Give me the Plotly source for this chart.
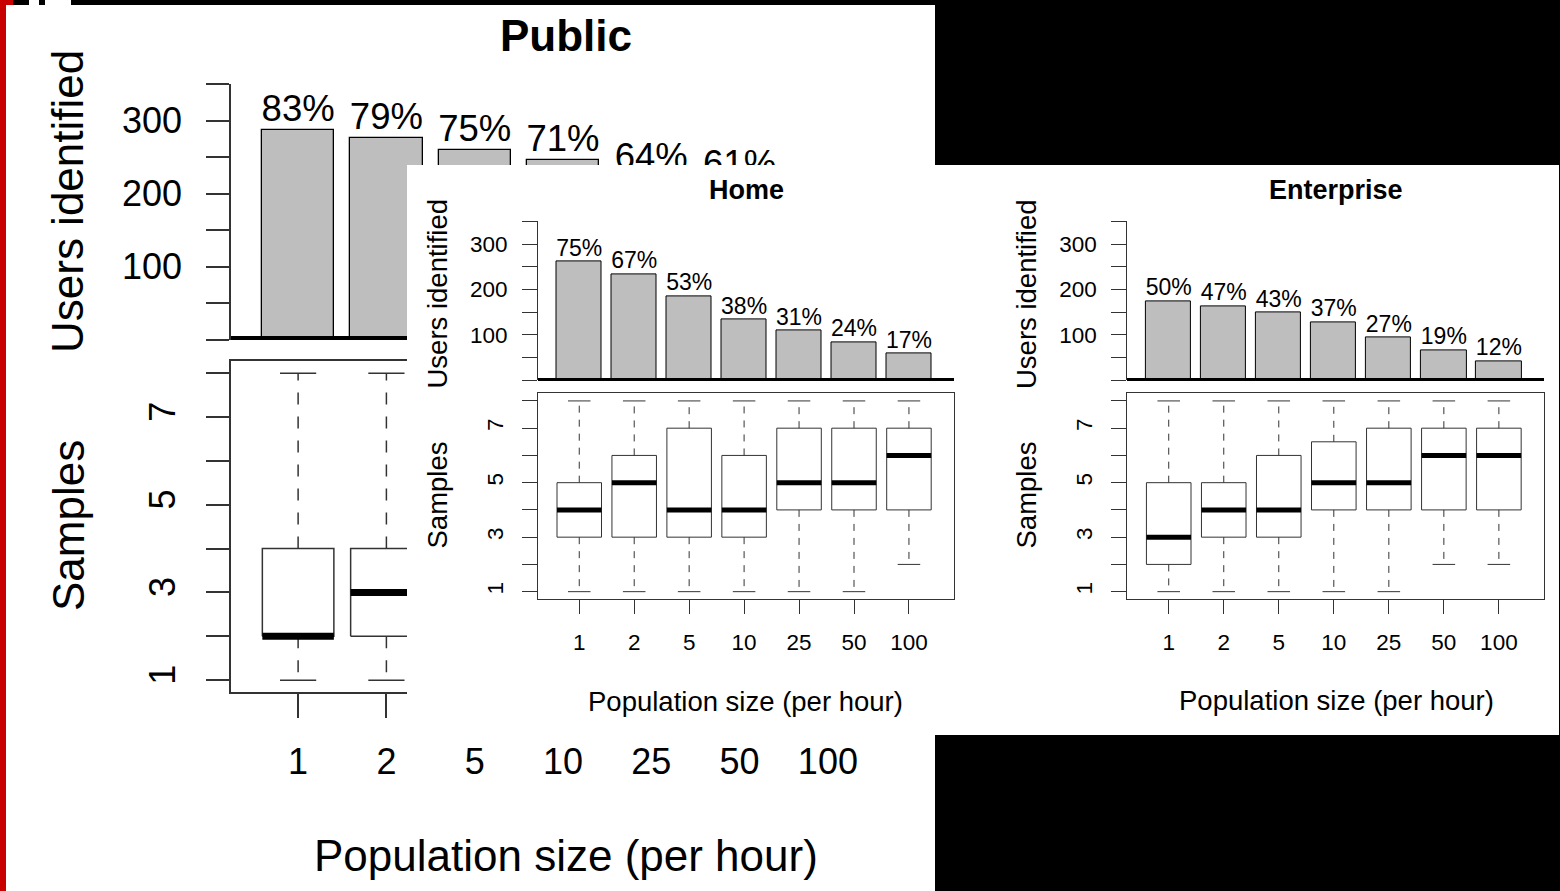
import plotly.graph_objects as go

W, H = 1560, 891
FONT = "Liberation Sans, Arial, sans-serif"

# ---------------- data ----------------
categories = ["1", "2", "5", "10", "25", "50", "100"]

public_users = [287, 276, 260, 246, 222, 212, 180]
public_pct = ["83%", "79%", "75%", "71%", "64%", "61%", "52%"]
home_users = [261, 234, 185, 133, 109, 84, 59]
home_pct = ["75%", "67%", "53%", "38%", "31%", "24%", "17%"]
ent_users = [174, 163, 149, 128, 94, 66, 42]
ent_pct = ["50%", "47%", "43%", "37%", "27%", "19%", "12%"]

# box statistics (samples): lower whisker, Q1, median, Q3, upper whisker
public_lo = [1, 1, 1, 1, 1, 1, 2]
public_q1 = [2, 2, 2, 3, 3, 3, 4]
public_med = [2, 3, 3, 4, 4, 5, 5]
public_q3 = [4, 4, 5, 5, 6, 6, 7]
public_hi = [8, 8, 8, 8, 8, 8, 8]

home_lo = [1, 1, 1, 1, 1, 1, 2]
home_q1 = [3, 3, 3, 3, 4, 4, 4]
home_med = [4, 5, 4, 4, 5, 5, 6]
home_q3 = [5, 6, 7, 6, 7, 7, 7]
home_hi = [8, 8, 8, 8, 8, 8, 8]

ent_lo = [1, 1, 1, 1, 1, 2, 2]
ent_q1 = [2, 3, 3, 4, 4, 4, 4]
ent_med = [3, 4, 4, 5, 5, 6, 6]
ent_q3 = [5, 5, 6, 6.5, 7, 7, 7]
ent_hi = [8, 8, 8, 8, 8, 8, 8]

user_ticks = [0, 50, 100, 150, 200, 250, 300, 350]
user_ticktext = ["", "", "100", "", "200", "", "300", ""]
sample_ticks = [1, 2, 3, 4, 5, 6, 7, 8]
sample_ticktext = ["1", "", "3", "", "5", "", "7", ""]


def fx(p):
    return p / W


def fy(p):
    return 1 - p / H


LC = "#333333"
XR = [-0.76, 6.82]

panels = [
    dict(title="Public", users=public_users, pct=public_pct,
         lo=public_lo, q1=public_q1, med=public_med, q3=public_q3, hi=public_hi,
         x0=231, x1=900.3, bar_top=84.1, bar_bot=340, base=338.3, base_w=3.5,
         box_top=361, box_bot=692.4, tick_font=36, pct_font=36.5, lab_font=44,
         ytl=23, xtl=24, lw=1.5, bar_lw=1.3, med_w=7, dash="12px,12px",
         ystand=17, bystand=17, xstand=13,
         title_xy=(566, 35), title_font=44,
         uid_xy=(68, 202), samp_xy=(68, 526), pop_xy=(566, 855),
         ids=(1, 2)),
    dict(title="Home", users=home_users, pct=home_pct,
         lo=home_lo, q1=home_q1, med=home_med, q3=home_q3, hi=home_hi,
         x0=537.5, x1=954, bar_top=221.4, bar_bot=380, base=378.7, base_w=2.5,
         box_top=393.3, box_bot=599.3, tick_font=22.5, pct_font=23, lab_font=27.5,
         ytl=14.5, xtl=14, lw=1, bar_lw=1, med_w=5, dash="7px,7px",
         ystand=10, bystand=10, xstand=9,
         title_xy=(746.5, 190), title_font=27,
         uid_xy=(436.5, 294), samp_xy=(436.5, 495), pop_xy=(745.5, 701),
         ids=(4, 5)),
    dict(title="Enterprise", users=ent_users, pct=ent_pct,
         lo=ent_lo, q1=ent_q1, med=ent_med, q3=ent_q3, hi=ent_hi,
         x0=1126.9, x1=1544, bar_top=221.4, bar_bot=380, base=378.7, base_w=2.5,
         box_top=393.3, box_bot=599.3, tick_font=22.5, pct_font=23, lab_font=27.5,
         ytl=14.5, xtl=14, lw=1, bar_lw=1, med_w=5, dash="7px,7px",
         ystand=10, bystand=10, xstand=9,
         title_xy=(1335.5, 190), title_font=27,
         uid_xy=(1026, 294), samp_xy=(1025.5, 495), pop_xy=(1336, 700),
         ids=(6, 7)),
]

fig = go.Figure()
layout_axes = {}
annotations = []


def ax_names(n):
    return ("x" if n == 1 else f"x{n}", "y" if n == 1 else f"y{n}",
            "xaxis" if n == 1 else f"xaxis{n}", "yaxis" if n == 1 else f"yaxis{n}")


def add_panel(p):
    bar_n, box_n = p["ids"]
    bx, by, bxk, byk = ax_names(bar_n)
    qx, qy, qxk, qyk = ax_names(box_n)
    pos = list(range(len(categories)))

    # ---- bars ----
    fig.add_trace(go.Bar(
        x=pos, y=p["users"], width=0.82, xaxis=bx, yaxis=by,
        marker=dict(color="#BEBEBE", line=dict(color="black", width=p["bar_lw"])),
        hoverinfo="skip", showlegend=False))
    fig.add_trace(go.Scatter(
        x=pos, y=p["users"], text=p["pct"], mode="text", textposition="top center",
        textfont=dict(size=p["pct_font"], color="black", family=FONT),
        xaxis=bx, yaxis=by, cliponaxis=False, hoverinfo="skip", showlegend=False))

    # ---- boxes ----
    bw, cw = 0.81, 0.41
    rx, ry, mx, my, wx, wy, cx, cy = [], [], [], [], [], [], [], []
    for i in pos:
        l, r = i - bw / 2, i + bw / 2
        rx += [l, r, r, l, l, None]
        ry += [p["q1"][i], p["q1"][i], p["q3"][i], p["q3"][i], p["q1"][i], None]
        mx += [l, r, None]
        my += [p["med"][i], p["med"][i], None]
        wx += [i, i, None, i, i, None]
        wy += [p["q3"][i], p["hi"][i], None, p["q1"][i], p["lo"][i], None]
        cx += [i - cw / 2, i + cw / 2, None, i - cw / 2, i + cw / 2, None]
        cy += [p["hi"][i], p["hi"][i], None, p["lo"][i], p["lo"][i], None]
    common = dict(xaxis=qx, yaxis=qy, mode="lines", hoverinfo="skip", showlegend=False)
    fig.add_trace(go.Scatter(x=wx, y=wy, line=dict(color=LC, width=p["lw"], dash=p["dash"]), **common))
    fig.add_trace(go.Scatter(x=cx, y=cy, line=dict(color=LC, width=p["lw"]), **common))
    fig.add_trace(go.Scatter(x=rx, y=ry, line=dict(color=LC, width=p["lw"]), **common))
    fig.add_trace(go.Scatter(x=mx, y=my, line=dict(color="black", width=p["med_w"]), **common))

    tf = dict(size=p["tick_font"], color="black", family=FONT)
    xdom = [fx(p["x0"]), fx(p["x1"])]
    layout_axes[bxk] = dict(domain=xdom, range=XR, anchor="free", position=fy(p["base"]),
                            showline=True, linecolor="black", linewidth=p["base_w"],
                            showticklabels=False, ticks="", showgrid=False, zeroline=False)
    layout_axes[byk] = dict(domain=[fy(p["bar_bot"]), fy(p["bar_top"])], range=[0, 350], anchor=bx,
                            showline=True, linecolor=LC, linewidth=p["lw"], ticks="outside",
                            ticklen=p["ytl"], tickwidth=p["lw"], tickcolor=LC,
                            tickvals=user_ticks, ticktext=user_ticktext, tickfont=tf,
                            ticklabelstandoff=p["ystand"],
                            showgrid=False, zeroline=False)
    layout_axes[qxk] = dict(domain=xdom, range=XR, anchor=qy, showline=True, mirror=True,
                            linecolor=LC, linewidth=p["lw"], ticks="outside", ticklen=p["xtl"],
                            tickwidth=p["lw"], tickcolor=LC, tickvals=pos, ticktext=categories,
                            tickfont=tf, ticklabelstandoff=p["xstand"],
                            showgrid=False, zeroline=False)
    layout_axes[qyk] = dict(domain=[fy(p["box_bot"]), fy(p["box_top"])], range=[0.72, 8.28],
                            anchor=qx, showline=True, mirror=True, linecolor=LC, linewidth=p["lw"],
                            ticks="outside", ticklen=p["ytl"], tickwidth=p["lw"], tickcolor=LC,
                            tickvals=sample_ticks, ticktext=sample_ticktext, tickangle=-90,
                            tickfont=tf, ticklabelstandoff=p["bystand"],
                            showgrid=False, zeroline=False)

    lf = dict(size=p["lab_font"], color="black", family=FONT)
    annotations.append(dict(text=f"<b>{p['title']}</b>", x=fx(p["title_xy"][0]), y=fy(p["title_xy"][1]),
                            xref="paper", yref="paper", showarrow=False, xanchor="center", yanchor="middle",
                            font=dict(size=p["title_font"], color="black", family=FONT)))
    annotations.append(dict(text="Users identified", x=fx(p["uid_xy"][0]), y=fy(p["uid_xy"][1]),
                            xref="paper", yref="paper", showarrow=False, textangle=-90,
                            xanchor="center", yanchor="middle", font=lf))
    annotations.append(dict(text="Samples", x=fx(p["samp_xy"][0]), y=fy(p["samp_xy"][1]),
                            xref="paper", yref="paper", showarrow=False, textangle=-90,
                            xanchor="center", yanchor="middle", font=lf))
    annotations.append(dict(text="Population size (per hour)", x=fx(p["pop_xy"][0]), y=fy(p["pop_xy"][1]),
                            xref="paper", yref="paper", showarrow=False,
                            xanchor="center", yanchor="middle", font=lf))


# Public panel first (drawn underneath)
add_panel(panels[0])

# white overlay sheet of the Home / Enterprise figure (subplot 3, drawn above Public)
fig.add_trace(go.Scatter(x=[0, 1, 1, 0, 0], y=[0, 0, 1, 1, 0], fill="toself", fillcolor="white",
                         mode="lines", line=dict(width=0, color="white"), xaxis="x3", yaxis="y3",
                         hoverinfo="skip", showlegend=False))
layout_axes["xaxis3"] = dict(domain=[fx(407), fx(1559)], range=[0, 1], anchor="y3", visible=False,
                             fixedrange=True)
layout_axes["yaxis3"] = dict(domain=[fy(735), fy(165)], range=[0, 1], anchor="x3", visible=False,
                             fixedrange=True)

add_panel(panels[1])
add_panel(panels[2])

shapes = [
    dict(type="rect", xref="paper", yref="paper", x0=fx(6), x1=fx(935), y0=fy(891), y1=fy(5),
         fillcolor="white", line=dict(width=0), layer="below"),
    dict(type="rect", xref="paper", yref="paper", x0=fx(0), x1=fx(6), y0=fy(891), y1=fy(0),
         fillcolor="#C80000", line=dict(width=0), layer="below"),
    dict(type="rect", xref="paper", yref="paper", x0=fx(0), x1=fx(13), y0=fy(5), y1=fy(0),
         fillcolor="#C80000", line=dict(width=0), layer="below"),
    dict(type="rect", xref="paper", yref="paper", x0=fx(29), x1=fx(39), y0=fy(5), y1=fy(0),
         fillcolor="white", line=dict(width=0), layer="below"),
    dict(type="rect", xref="paper", yref="paper", x0=fx(45), x1=fx(71), y0=fy(5), y1=fy(0),
         fillcolor="white", line=dict(width=0), layer="below"),
    dict(type="rect", xref="paper", yref="paper", x0=fx(407), x1=fx(1559), y0=fy(735), y1=fy(165),
         fillcolor="white", line=dict(width=0), layer="below"),
]

fig.update_layout(
    width=W, height=H, margin=dict(l=0, r=0, t=0, b=0, pad=0),
    paper_bgcolor="black", plot_bgcolor="rgba(0,0,0,0)",
    showlegend=False, bargap=0, font=dict(family=FONT, color="black"),
    annotations=annotations, shapes=shapes, **layout_axes)

fig.write_html("out.html", config={"displayModeBar": False},
               post_script="document.body.style.margin='0';document.body.style.padding='0';"
                           "document.body.style.background='black';")
